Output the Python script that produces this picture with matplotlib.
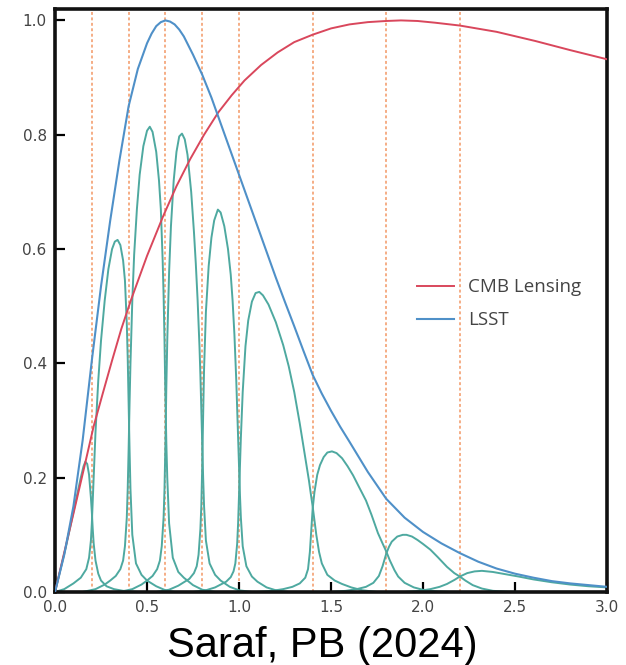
import numpy as np
import matplotlib
matplotlib.use("Agg")
import matplotlib.pyplot as plt

# redshift grid readings for the two survey kernels
z_cmb = [0, 0.05, 0.10, 0.16, 0.21, 0.26, 0.31, 0.36, 0.413, 0.50, 0.587, 0.66, 0.734, 0.81,
         0.887, 0.96, 1.03, 1.12, 1.21, 1.30, 1.40, 1.50, 1.60, 1.70, 1.80, 1.88, 1.97,
         2.065, 2.20, 2.40, 2.61, 2.80, 3.00]
cmb = [0, 0.069, 0.137, 0.22, 0.29, 0.348, 0.405, 0.46, 0.511, 0.588, 0.657, 0.71, 0.757,
       0.80, 0.839, 0.869, 0.895, 0.922, 0.944, 0.962, 0.975, 0.986, 0.993, 0.997, 0.999,
       1.0, 0.999, 0.996, 0.991, 0.98, 0.964, 0.948, 0.932]

z_lsst = [0, 0.05, 0.10, 0.15, 0.20, 0.25, 0.30, 0.35, 0.40, 0.45, 0.50, 0.525, 0.55,
          0.575, 0.60, 0.625, 0.65, 0.675, 0.70, 0.75, 0.80, 0.85, 0.90, 0.95, 1.00, 1.05,
          1.10, 1.15, 1.20, 1.25, 1.30, 1.35, 1.40, 1.45, 1.50, 1.55, 1.60, 1.70, 1.80,
          1.90, 2.00, 2.10, 2.20, 2.30, 2.40, 2.50, 2.60, 2.70, 2.80, 2.90, 3.00]
lsst = [0, 0.065, 0.15, 0.265, 0.405, 0.535, 0.65, 0.755, 0.85, 0.915, 0.96, 0.977, 0.99,
        0.997, 1.0, 0.998, 0.993, 0.984, 0.972, 0.94, 0.905, 0.865, 0.82, 0.775, 0.73,
        0.685, 0.64, 0.595, 0.55, 0.507, 0.465, 0.422, 0.38, 0.347, 0.317, 0.289, 0.263,
        0.21, 0.163, 0.13, 0.105, 0.085, 0.068, 0.053, 0.041, 0.032, 0.025, 0.019, 0.015,
        0.012, 0.009]

# tomographic bins
z1 = [0, 0.03, 0.06, 0.09, 0.12, 0.14, 0.155, 0.165, 0.175, 0.185, 0.195, 0.20, 0.205,
      0.21, 0.22, 0.235, 0.25, 0.28, 0.32, 0.37, 0.45]
b1 = [0, 0.04, 0.08, 0.125, 0.17, 0.2, 0.22, 0.228, 0.224, 0.205, 0.165, 0.14, 0.11,
      0.085, 0.055, 0.032, 0.02, 0.01, 0.005, 0.002, 0]

z2 = [0.0, 0.05, 0.10, 0.14, 0.17, 0.185, 0.195, 0.20, 0.205, 0.21, 0.22, 0.235, 0.25,
      0.27, 0.29, 0.31, 0.325, 0.34, 0.355, 0.37, 0.38, 0.39, 0.395, 0.40, 0.405, 0.41,
      0.42, 0.44, 0.47, 0.50, 0.55, 0.60, 0.65]
b2 = [0.0, 0.005, 0.015, 0.025, 0.04, 0.06, 0.09, 0.12, 0.16, 0.2, 0.28, 0.37, 0.44,
      0.51, 0.565, 0.60, 0.613, 0.616, 0.607, 0.58, 0.545, 0.47, 0.41, 0.33, 0.25, 0.18,
      0.1, 0.05, 0.03, 0.02, 0.01, 0.003, 0.0]

z3 = [0.15, 0.22, 0.27, 0.30, 0.33, 0.355, 0.37, 0.38, 0.39, 0.395, 0.40, 0.405, 0.41,
      0.42, 0.43, 0.445, 0.46, 0.48, 0.50, 0.515, 0.53, 0.55, 0.565, 0.575, 0.585, 0.59,
      0.595, 0.60, 0.605, 0.61, 0.62, 0.64, 0.67, 0.70, 0.75, 0.80, 0.87]
b3 = [0.0, 0.005, 0.013, 0.02, 0.028, 0.04, 0.055, 0.08, 0.13, 0.18, 0.25, 0.33, 0.40,
      0.51, 0.59, 0.67, 0.73, 0.78, 0.807, 0.814, 0.805, 0.77, 0.72, 0.67, 0.58, 0.52,
      0.44, 0.34, 0.26, 0.2, 0.12, 0.06, 0.035, 0.025, 0.012, 0.004, 0.0]

z4 = [0.35, 0.42, 0.47, 0.50, 0.53, 0.555, 0.57, 0.58, 0.59, 0.595, 0.60, 0.605, 0.61,
      0.62, 0.63, 0.645, 0.66, 0.675, 0.69, 0.705, 0.72, 0.74, 0.755, 0.765, 0.775, 0.785,
      0.79, 0.795, 0.80, 0.805, 0.81, 0.82, 0.84, 0.87, 0.90, 0.95, 1.00, 1.07]
b4 = [0.0, 0.005, 0.013, 0.02, 0.028, 0.04, 0.055, 0.08, 0.13, 0.18, 0.26, 0.36, 0.44,
      0.56, 0.64, 0.72, 0.77, 0.797, 0.802, 0.792, 0.765, 0.7, 0.63, 0.575, 0.51, 0.43,
      0.38, 0.32, 0.26, 0.2, 0.15, 0.09, 0.05, 0.03, 0.02, 0.009, 0.003, 0.0]

z5 = [0.55, 0.62, 0.67, 0.70, 0.73, 0.755, 0.77, 0.78, 0.79, 0.795, 0.80, 0.805, 0.81,
      0.82, 0.835, 0.85, 0.865, 0.885, 0.90, 0.92, 0.94, 0.955, 0.965, 0.975, 0.985, 0.99,
      0.995, 1.00, 1.005, 1.01, 1.02, 1.04, 1.07, 1.10, 1.15, 1.20, 1.27]
b5 = [0.0, 0.004, 0.011, 0.017, 0.023, 0.033, 0.045, 0.065, 0.11, 0.15, 0.22, 0.31, 0.39,
      0.49, 0.57, 0.62, 0.65, 0.669, 0.664, 0.64, 0.6, 0.555, 0.51, 0.45, 0.37, 0.32,
      0.27, 0.22, 0.17, 0.13, 0.08, 0.045, 0.027, 0.018, 0.008, 0.003, 0.0]

z6 = [0.75, 0.82, 0.87, 0.90, 0.93, 0.955, 0.97, 0.98, 0.99, 0.995, 1.00, 1.005, 1.01,
      1.02, 1.035, 1.05, 1.07, 1.09, 1.11, 1.13, 1.16, 1.20, 1.24, 1.27, 1.30, 1.33, 1.36,
      1.38, 1.39, 1.40, 1.41, 1.42, 1.435, 1.45, 1.48, 1.52, 1.56, 1.61, 1.67, 1.75]
b6 = [0.0, 0.003, 0.008, 0.013, 0.018, 0.026, 0.036, 0.05, 0.085, 0.12, 0.17, 0.22, 0.27,
      0.35, 0.43, 0.475, 0.508, 0.523, 0.525, 0.519, 0.503, 0.472, 0.432, 0.395, 0.35,
      0.295, 0.235, 0.195, 0.172, 0.15, 0.125, 0.1, 0.07, 0.05, 0.03, 0.02, 0.014, 0.008,
      0.003, 0.0]

z7 = [1.10, 1.18, 1.24, 1.29, 1.33, 1.36, 1.375, 1.385, 1.395, 1.40, 1.41, 1.425, 1.44,
      1.46, 1.48, 1.505, 1.53, 1.56, 1.59, 1.62, 1.65, 1.69, 1.72, 1.755, 1.78, 1.80,
      1.82, 1.845, 1.865, 1.90, 1.95, 2.01, 2.08, 2.15]
b7 = [0.0, 0.002, 0.005, 0.009, 0.015, 0.025, 0.04, 0.07, 0.12, 0.145, 0.175, 0.205,
      0.222, 0.236, 0.244, 0.246, 0.243, 0.234, 0.22, 0.204, 0.185, 0.16, 0.135, 0.103,
      0.085, 0.071, 0.055, 0.038, 0.027, 0.016, 0.008, 0.003, 0.001, 0.0]

z8 = [1.50, 1.58, 1.64, 1.69, 1.73, 1.76, 1.78, 1.79, 1.80, 1.815, 1.83, 1.86, 1.89,
      1.91, 1.94, 1.97, 2.00, 2.04, 2.08, 2.13, 2.17, 2.20, 2.23, 2.27, 2.32, 2.38, 2.46,
      2.55]
b8 = [0.0, 0.002, 0.005, 0.009, 0.016, 0.028, 0.045, 0.056, 0.067, 0.079, 0.088, 0.097,
      0.1, 0.1, 0.097, 0.091, 0.084, 0.074, 0.061, 0.044, 0.033, 0.027, 0.02, 0.012,
      0.006, 0.002, 0.0005, 0.0]

z9 = [1.90, 1.98, 2.04, 2.09, 2.13, 2.17, 2.20, 2.24, 2.28, 2.32, 2.38, 2.45, 2.52, 2.60,
      2.70, 2.80, 2.90, 3.00]
b9 = [0.0, 0.002, 0.005, 0.009, 0.014, 0.021, 0.027, 0.033, 0.036, 0.037, 0.035, 0.031,
      0.027, 0.022, 0.017, 0.013, 0.01, 0.008]

bin_edges = [0.2, 0.4, 0.6, 0.8, 1.0, 1.4, 1.8, 2.2]
xticks = [0.0, 0.5, 1.0, 1.5, 2.0, 2.5, 3.0]
yticks = [0.0, 0.2, 0.4, 0.6, 0.8, 1.0]

fig = plt.figure(figsize=(6.26, 6.65), dpi=100)
ax = fig.add_axes([0.0879, 0.1098, 0.8818, 0.8767])

for e in bin_edges:
    ax.axvline(e, color='#f5ad85', ls=(0, (1.5, 1.3)), lw=1.4, zorder=1)

teal = '#4ea9a0'
for zz, bb in [(z1, b1), (z2, b2), (z3, b3), (z4, b4), (z5, b5),
               (z6, b6), (z7, b7), (z8, b8), (z9, b9)]:
    ax.plot(zz, bb, color=teal, lw=1.4, zorder=2)

ax.plot(z_cmb, cmb, color='#d9475c', lw=1.4, label='CMB Lensing', zorder=3)
ax.plot(z_lsst, lsst, color='#4f90c8', lw=1.5, label='LSST', zorder=3)

ax.set_xlim(0, 3.0)
ax.set_ylim(0, 1.02)
ax.set_xticks(xticks)
ax.set_yticks(yticks)
ax.set_xticklabels([f'{t:.1f}' for t in xticks])
ax.set_yticklabels([f'{t:.1f}' for t in yticks])
ax.tick_params(direction='in', length=7, width=1.6, labelsize=11,
               labelcolor='#444444', pad=6)
for s in ax.spines.values():
    s.set_linewidth(2.6)
    s.set_color('#111111')

leg = ax.legend(loc='center left', bbox_to_anchor=(0.625, 0.494), frameon=False,
                handlelength=2.0, handletextpad=0.75, labelspacing=0.8,
                prop={'family': 'Open Sans', 'size': 13.5})
for t in leg.get_texts():
    t.set_color('#444444')

fig.text(0.515, 0.012, 'Saraf, PB (2024)', ha='center', va='baseline',
         fontsize=30, family='Liberation Sans', color='black')

fig.savefig('out.png', dpi=100)
